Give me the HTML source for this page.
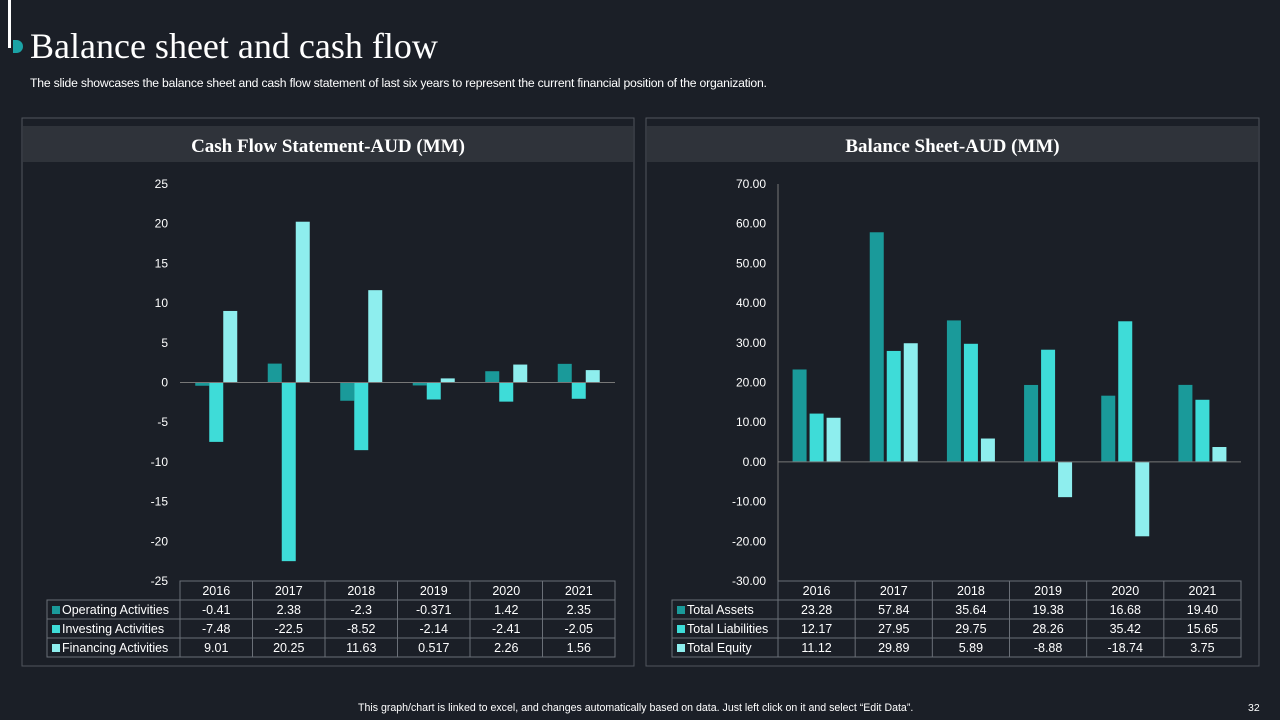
<!DOCTYPE html>
<html><head><meta charset="utf-8"><style>
body{margin:0;width:1280px;height:720px;background:#1b1f27;font-family:"Liberation Sans",sans-serif;overflow:hidden;position:relative;color:#fff}
.abs{position:absolute;white-space:nowrap}
</style></head><body>
<div class="abs" style="left:8px;top:0;width:3px;height:48px;background:#fff"></div>
<div class="abs" style="left:13px;top:40px;width:10px;height:13px;border-radius:0 7px 7px 0;background:#1ba3a6"></div>
<div class="abs" style="left:30px;top:25px;font-family:'Liberation Serif',serif;font-size:36px;color:#fff">Balance sheet and cash flow</div>
<div class="abs" style="left:30px;top:76px;font-size:12.2px;color:#fff;letter-spacing:-0.2px">The slide showcases the balance sheet and cash flow statement of last six years to represent the current financial position of the organization.</div>
<svg class="abs" style="left:0;top:0" width="1280" height="720" id="svg"></svg>
<div class="abs" style="left:358px;top:702px;font-size:10.6px">This graph/chart is linked to excel, and changes automatically based on data. Just left click on it and select “Edit Data”.</div>
<div class="abs" style="left:1248px;top:702px;font-size:10.5px">32</div>
<script>
const years=["2016","2017","2018","2019","2020","2021"];
const cfNames=["Operating Activities","Investing Activities","Financing Activities"];
const cfOps=[-0.41,2.38,-2.3,-0.371,1.42,2.35];
const cfInv=[-7.48,-22.5,-8.52,-2.14,-2.41,-2.05];
const cfFin=[9.01,20.25,11.63,0.517,2.26,1.56];
const cfLabels=[["-0.41","2.38","-2.3","-0.371","1.42","2.35"],["-7.48","-22.5","-8.52","-2.14","-2.41","-2.05"],["9.01","20.25","11.63","0.517","2.26","1.56"]];
const cfTicks=[25,20,15,10,5,0,-5,-10,-15,-20,-25];
const bsNames=["Total Assets","Total Liabilities","Total Equity"];
const bsAssets=[23.28,57.84,35.64,19.38,16.68,19.40];
const bsLiab=[12.17,27.95,29.75,28.26,35.42,15.65];
const bsEq=[11.12,29.89,5.89,-8.88,-18.74,3.75];
const bsLabels=[["23.28","57.84","35.64","19.38","16.68","19.40"],["12.17","27.95","29.75","28.26","35.42","15.65"],["11.12","29.89","5.89","-8.88","-18.74","3.75"]];
const bsTicks=["70.00","60.00","50.00","40.00","30.00","20.00","10.00","0.00","-10.00","-20.00","-30.00"];
const colors=["#1a9a9a","#3edcd8","#8eeeee"];
const svg=document.getElementById('svg');
const NS="http://www.w3.org/2000/svg";
function mk(t,a,txt){const e=document.createElementNS(NS,t);for(const k in a)e.setAttribute(k,a[k]);if(txt!==undefined)e.textContent=txt;svg.appendChild(e);return e;}
function panel(o){
 let e=mk('rect',{x:o.px,y:118,width:o.pw,height:548,fill:'none',stroke:'#50555d','stroke-width':1});
 
 e=mk('rect',{x:o.px+1,y:126,width:o.pw-2,height:36,fill:'#2f333a'});
 
 e=mk('text',{x:o.px+o.pw/2,y:152,'text-anchor':'middle','font-family':'Liberation Serif, serif','font-weight':'bold','font-size':19,fill:'#fff'},o.title);
 
 const y=v=>o.y0+(o.max-v)/(o.max-o.min)*(o.y1-o.y0);
 o.ticks.forEach(t=>{e=mk('text',{x:o.lx,y:y(parseFloat(t))+4,'text-anchor':'end','font-size':12,fill:'#fff'},t);
  });
 if(o.axis){e=mk('line',{x1:o.x0,x2:o.x0,y1:o.y0,y2:o.y1,stroke:'#777','stroke-width':1});}
 const cw=(o.x1-o.x0)/years.length;
 o.series.forEach((s,si)=>{s.forEach((v,i)=>{
  const cx=o.x0+cw*(i+0.5);
  const x=cx+(si-1)*o.step-o.bw/2;
  const ya=y(Math.max(v,0)),yb=y(Math.min(v,0));
  e=mk('rect',{x:x,y:ya,width:o.bw,height:Math.max(yb-ya,0.5),fill:colors[si]});
  
 });});
 e=mk('line',{x1:o.x0,x2:o.x1,y1:y(0),y2:y(0),stroke:'#777','stroke-width':1});
 
 const rh=19,ty=581;
 const ln={stroke:'#6a6f77','stroke-width':1};
 mk('rect',Object.assign({x:o.x0,y:ty,width:o.x1-o.x0,height:rh,fill:'none'},ln));
 mk('rect',Object.assign({x:o.tx,y:ty+rh,width:o.x1-o.tx,height:rh*3,fill:'none'},ln));
 for(let r=1;r<3;r++)mk('line',Object.assign({x1:o.tx,x2:o.x1,y1:ty+rh*(r+1),y2:ty+rh*(r+1)},ln));
 for(let i=0;i<=years.length;i++)mk('line',Object.assign({x1:o.x0+cw*i,x2:o.x0+cw*i,y1:ty,y2:ty+rh*4},ln));
 years.forEach((yr,i)=>{e=mk('text',{x:o.x0+cw*(i+0.5),y:ty+14,'text-anchor':'middle','font-size':12.5,fill:'#fff'},yr);
  });
 o.names.forEach((n,r)=>{const yy=ty+rh*(r+1);
  e=mk('rect',{x:o.tx+5,y:yy+6,width:8,height:8,fill:colors[r]});
  
  e=mk('text',{x:o.tx+15,y:yy+14,'font-size':12.5,fill:'#fff'},n);
  
  o.labels[r].forEach((t,i)=>{e=mk('text',{x:o.x0+cw*(i+0.5),y:yy+14,'text-anchor':'middle','font-size':12.5,fill:'#fff'},t);
   });
 });
}
panel({id:'cash-flow',px:22,pw:612,title:'Cash Flow Statement-AUD (MM)',lx:168,x0:180,x1:615,y0:184,y1:581,max:25,min:-25,ticks:cfTicks.map(String),series:[cfOps,cfInv,cfFin],bw:14,step:14,tx:47,names:cfNames,labels:cfLabels,axis:false});
panel({id:'balance-sheet',px:646,pw:613,title:'Balance Sheet-AUD (MM)',lx:766,x0:778,x1:1241,y0:184,y1:581,max:70,min:-30,ticks:bsTicks,series:[bsAssets,bsLiab,bsEq],bw:14,step:17,tx:672,names:bsNames,labels:bsLabels,axis:true});
</script>
</body></html>
